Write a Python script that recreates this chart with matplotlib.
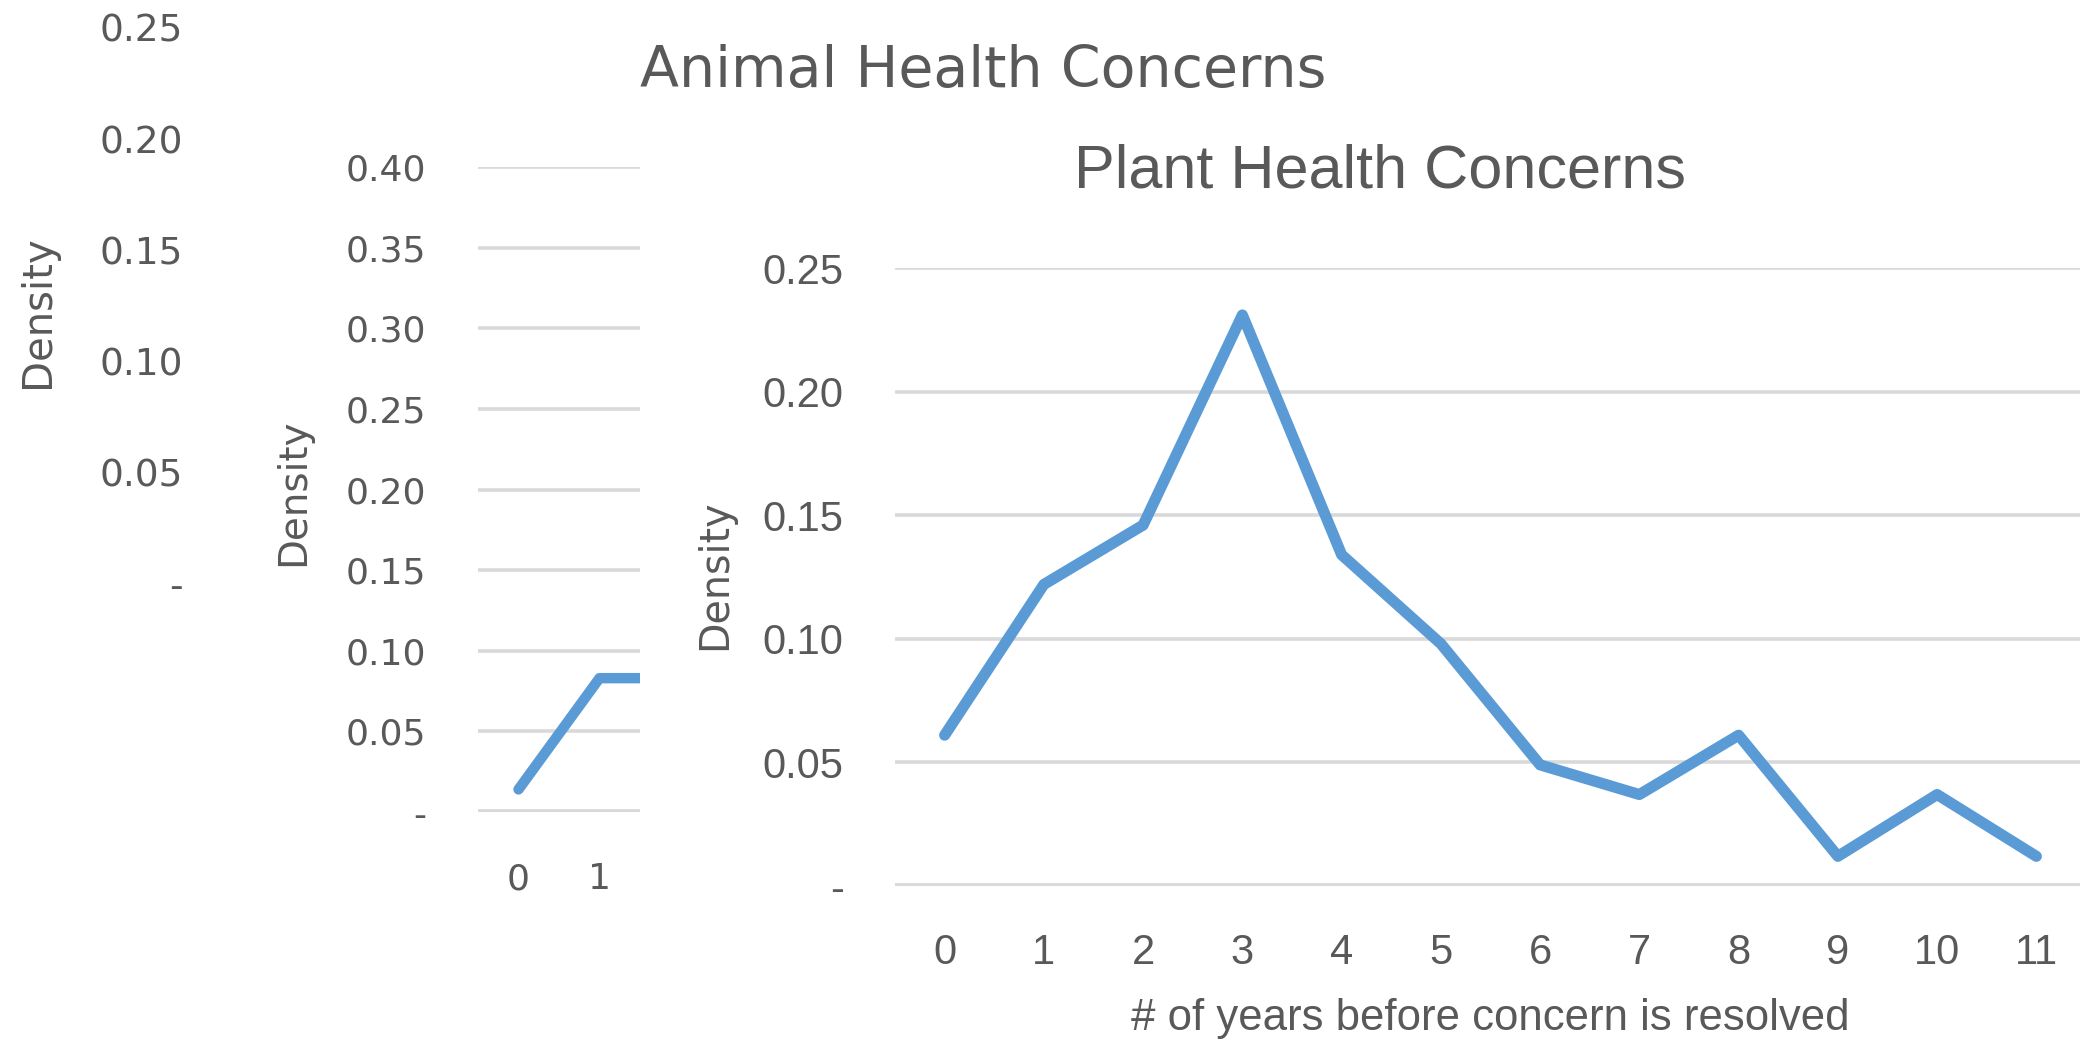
import matplotlib.pyplot as plt

# three overlapping density charts (left one mostly hidden)
W, H = 2080, 1042

density_ticks_a = [0.0, 0.05, 0.10, 0.15, 0.20, 0.25]
density_labels_a = ["-", "0.05", "0.10", "0.15", "0.20", "0.25"]

animal_years = [0, 1, 2]
animal_density = [0.014, 0.083, 0.083]
animal_ticks = [0.0, 0.05, 0.10, 0.15, 0.20, 0.25, 0.30, 0.35, 0.40]
animal_labels = ["-", "0.05", "0.10", "0.15", "0.20", "0.25", "0.30", "0.35", "0.40"]
animal_xlabels = ["0", "1", "2"]

plant_years = [0, 1, 2, 3, 4, 5, 6, 7, 8, 9, 10, 11]
plant_density = [0.061, 0.122, 0.146, 0.231, 0.134, 0.098,
                 0.049, 0.037, 0.061, 0.012, 0.037, 0.012]
plant_ticks = [0.0, 0.05, 0.10, 0.15, 0.20, 0.25]
plant_labels = ["-", "0.05", "0.10", "0.15", "0.20", "0.25"]

TXT = "#595959"
GRID = "#D9D9D9"
BLUE = "#5B9BD5"
WIDE = ["DejaVu Sans"]
NARROW = ["Liberation Sans", "DejaVu Sans"]


def box(l, t, r, b):
    return [l / W, 1 - b / H, (r - l) / W, (b - t) / H]


def blank(rect, z):
    ax = fig.add_axes(rect, zorder=z)
    ax.set_facecolor("white")
    ax.set_xticks([])
    ax.set_yticks([])
    for s in ax.spines.values():
        s.set_visible(False)
    return ax


def style(ax, fam, size, xpad, ypad):
    for s in ax.spines.values():
        s.set_visible(False)
    ax.tick_params(length=0, labelcolor=TXT, labelsize=size)
    ax.tick_params(axis="x", pad=xpad)
    ax.tick_params(axis="y", pad=ypad)
    for lbl in ax.get_xticklabels() + ax.get_yticklabels():
        lbl.set_fontfamily(fam)


fig = plt.figure(figsize=(20.8, 10.42), dpi=100)
fig.patch.set_facecolor("white")

# chart A (behind)
axa = fig.add_axes(box(215, 28, 900, 584), zorder=1)
axa.set_ylim(0, 0.25)
axa.set_xlim(-0.5, 9.5)
axa.set_yticks(density_ticks_a)
axa.set_yticklabels(density_labels_a)
axa.set_xticks([])
style(axa, WIDE, 27, 30, 23)
fig.text(38, H - 312, "Density", transform=None, rotation=90, ha="center",
         va="center", fontsize=29, color=TXT, family=WIDE, zorder=1.5)

# chart B: animal health
blank(box(200, 0, 2080, 1037), 2)
axb = fig.add_axes(box(478, 167, 1288, 812), zorder=3)
axb.set_ylim(0, 0.40)
axb.set_xlim(-0.5, 9.5)
axb.set_yticks(animal_ticks)
axb.set_yticklabels(animal_labels)
axb.set_xticks(animal_years)
axb.set_xticklabels(animal_xlabels)
for y in animal_ticks[1:]:
    axb.axhline(y, color=GRID, lw=2.6, zorder=1)
axb.axhline(0, color=GRID, lw=4.2, zorder=1)
axb.plot(animal_years, animal_density, color=BLUE, lw=7.5,
         solid_joinstyle="round", solid_capstyle="round", zorder=3)
style(axb, WIDE, 26, 36, 37)
fig.text(983, H - 87, "Animal Health Concerns", transform=None, ha="center",
         va="baseline", fontsize=41, color=TXT, family=WIDE, zorder=3.5)
fig.text(293, H - 492, "Density", transform=None, rotation=90, ha="center",
         va="center", fontsize=28, color=TXT, family=WIDE, zorder=3.5)

# chart C: plant health (front)
blank(box(640, 92, 2080, 1042), 4)
axc = fig.add_axes(box(895, 268, 2086, 886), zorder=5)
axc.set_ylim(0, 0.25)
axc.set_xlim(-0.5, 11.5)
axc.set_yticks(plant_ticks)
axc.set_yticklabels(plant_labels)
axc.set_xticks(plant_years)
axc.set_xticklabels([str(v) for v in plant_years])
for y in plant_ticks[1:]:
    axc.axhline(y, color=GRID, lw=2.6, zorder=1)
axc.axhline(0, color=GRID, lw=4.2, zorder=1)
axc.plot(plant_years, plant_density, color=BLUE, lw=8,
         solid_joinstyle="round", solid_capstyle="round", zorder=3)
style(axc, NARROW, 30, 34, 37)
fig.text(1380, H - 188, "Plant Health Concerns", transform=None, ha="center",
         va="baseline", fontsize=44, color=TXT, family=NARROW, zorder=5.5)
fig.text(1490, H - 1030, "# of years before concern is resolved",
         transform=None, ha="center", va="baseline", fontsize=31.5, color=TXT,
         family=NARROW, zorder=5.5)
fig.text(715, H - 575, "Density", transform=None, rotation=90, ha="center",
         va="center", fontsize=28.5, color=TXT, family=WIDE, zorder=5.5)

fig.savefig("out.png", dpi=100, facecolor="white")
